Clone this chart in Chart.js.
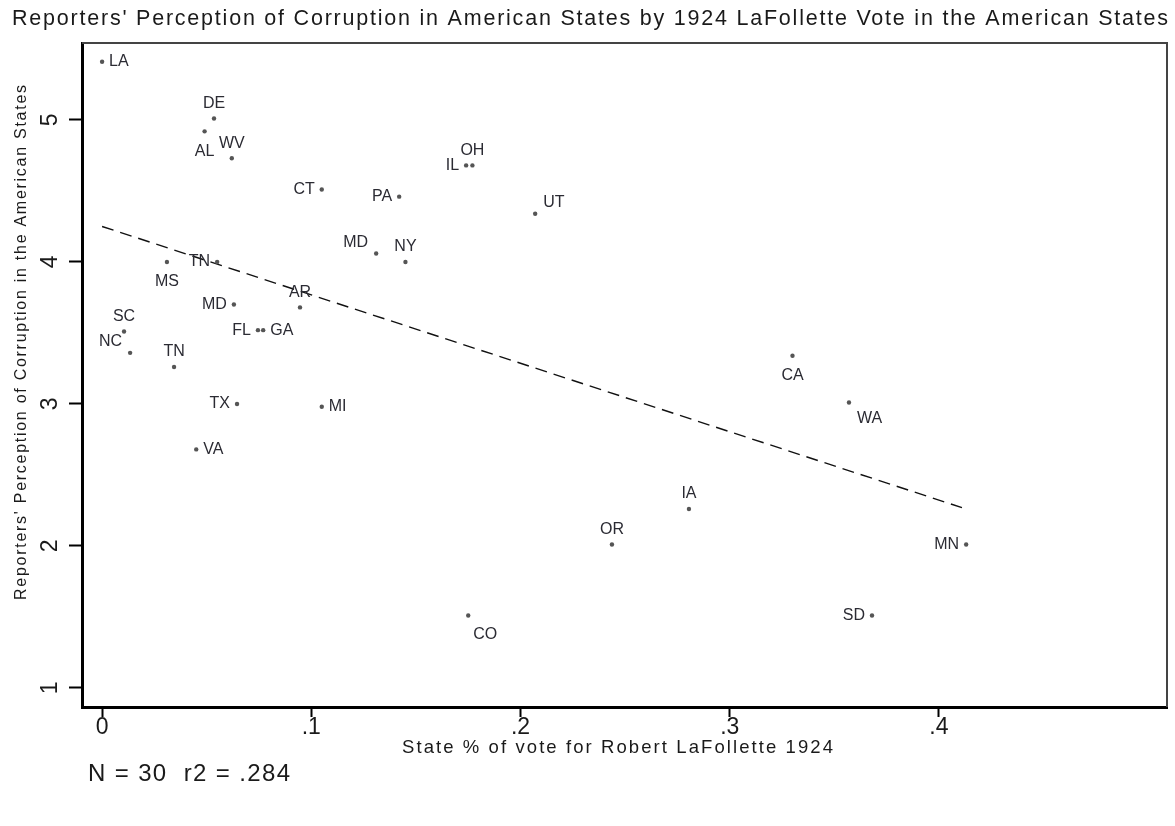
<!DOCTYPE html>
<html><head><meta charset="utf-8">
<script src="https://cdn.jsdelivr.net/npm/chart.js@4.4.1/dist/chart.umd.min.js"></script>
<style>html,body{margin:0;padding:0;background:#fff;} #wrap{width:1175px;height:826px;position:relative}</style>
</head><body><div id="wrap"><canvas id="c" width="1175" height="826"></canvas></div>
<script>
// ---- data ----
const states = ['LA','DE','AL','WV','CT','PA','IL','OH','UT','MD','NY','TN','MS','AR','MD','FL','GA','SC','NC','TN','TX','MI','VA','CA','WA','IA','OR','MN','SD','CO'];
const voteShare = [0.000,0.0535,0.049,0.062,0.105,0.142,0.174,0.177,0.207,0.131,0.145,0.055,0.031,0.0946,0.063,0.0745,0.077,0.0105,0.0134,0.0344,0.0645,0.105,0.045,0.330,0.357,0.2805,0.2437,0.413,0.368,0.175];
const corruption = [5.41,5.01,4.92,4.73,4.51,4.46,4.68,4.68,4.34,4.06,4.00,4.00,4.00,3.68,3.70,3.52,3.52,3.51,3.36,3.26,3.00,2.98,2.68,3.34,3.01,2.26,2.01,2.01,1.51,1.51];
const fitX = [0, 0.411];
const fitY = [4.25, 2.27];
const xTicks = [0, 0.1, 0.2, 0.3, 0.4];
const xTickLabels = ['0', '.1', '.2', '.3', '.4'];
const yTicks = [1, 2, 3, 4, 5];
const yTickLabels = ['1', '2', '3', '4', '5'];
const titleText = "Reporters' Perception of Corruption in American States by 1924 LaFollette Vote in the American States";
const xTitleText = 'State % of vote for Robert LaFollette 1924';
const yTitleText = "Reporters' Perception of Corruption in the American States";
const noteText = 'N = 30  r2 = .284';

// ---- styling (label clock positions, Stata style) ----
const labelClock = [3,12,6,12,9,9,9,12,2,10,12,9,6,12,9,9,3,12,10,12,9,3,3,6,4,12,12,9,9,5];
const FONT = '"Liberation Sans", Arial, sans-serif';
const clockOff = {
  12:[0,-15,'center'], 6:[0,20,'center'], 3:[7,0,'left'], 9:[-7,0,'right'],
  2:[8,-11,'left'], 10:[-8,-11,'right'], 4:[8,16,'left'], 5:[5,19,'left'],
  7:[-5,19,'right'], 8:[-8,12,'right'], 1:[5,-14,'left'], 11:[-5,-14,'right']
};

function spacedText(ctx, text, x, y, target, size, rot) {
  ctx.save();
  ctx.font = size + 'px ' + FONT;
  ctx.letterSpacing = '0px';
  const w = ctx.measureText(text).width;
  const ls = (target - w) / (text.length - 1);
  ctx.letterSpacing = ls + 'px';
  ctx.fillStyle = '#1a1a1a';
  ctx.textBaseline = 'middle';
  ctx.textAlign = 'left';
  ctx.translate(x, y);
  if (rot) ctx.rotate(rot);
  ctx.fillText(text, 0, 0);
  ctx.restore();
}

const decor = {
  id: 'decor',
  afterDraw(chart) {
    const ctx = chart.ctx, a = chart.chartArea;
    const xs = chart.scales.x, ys = chart.scales.y;
    ctx.save();
    ctx.strokeStyle = '#444';
    ctx.lineWidth = 2;
    ctx.beginPath();
    ctx.moveTo(a.left, a.top); ctx.lineTo(a.right, a.top); ctx.lineTo(a.right, a.bottom);
    ctx.stroke();
    ctx.restore();
    ctx.save();
    ctx.font = '16px ' + FONT;
    ctx.fillStyle = '#2b2b33';
    ctx.textBaseline = 'middle';
    states.forEach((s, i) => {
      const px = xs.getPixelForValue(voteShare[i]);
      const py = ys.getPixelForValue(corruption[i]);
      const o = clockOff[labelClock[i]];
      ctx.textAlign = o[2];
      ctx.fillText(s, px + o[0], py + o[1]);
    });
    ctx.restore();
    spacedText(ctx, titleText, 12, 19, 1156, 21.5, 0);
    spacedText(ctx, xTitleText, 402, 748, 431, 18.5, 0);
    spacedText(ctx, yTitleText, 22, 600, 515, 16, -Math.PI / 2);
    spacedText(ctx, noteText, 88, 774, 202, 24, 0);
  }
};

new Chart(document.getElementById('c'), {
  type: 'scatter',
  data: {
    datasets: [
      {
        label: 'States',
        data: voteShare.map((v, i) => ({ x: v, y: corruption[i] })),
        pointRadius: 2.2,
        pointBackgroundColor: '#555',
        pointBorderWidth: 0,
        order: 1
      },
      {
        type: 'line',
        label: 'Fitted',
        data: fitX.map((v, i) => ({ x: v, y: fitY[i] })),
        borderColor: '#111',
        borderWidth: 1.4,
        borderDash: [12, 7],
        pointRadius: 0,
        fill: false,
        order: 2
      }
    ]
  },
  options: {
    responsive: false,
    animation: false,
    devicePixelRatio: 1,
    layout: { padding: { top: 43, right: 8, left: 0, bottom: 0 } },
    plugins: { legend: { display: false }, tooltip: { enabled: false }, title: { display: false } },
    scales: {
      x: {
        type: 'linear',
        min: -0.0096, max: 0.509,
        afterBuildTicks: s => { s.ticks = xTicks.map(v => ({ value: v })); },
        afterFit: s => { s.height = 119; },
        ticks: {
          callback: v => xTickLabels[xTicks.findIndex(t => Math.abs(t - v) < 1e-9)],
          font: { family: FONT, size: 23 },
          color: '#1a1a1a',
          padding: -3,
          maxRotation: 0, minRotation: 0, autoSkip: false
        },
        grid: { display: true, drawOnChartArea: false, drawTicks: true, tickLength: 10, tickColor: '#000', tickWidth: 2, color: '#000' },
        border: { display: true, color: '#000', width: 3 }
      },
      y: {
        type: 'linear',
        min: 0.866, max: 5.542,
        afterBuildTicks: s => { s.ticks = yTicks.map(v => ({ value: v })); },
        afterFit: s => { s.width = 82; },
        ticks: {
          callback: v => yTickLabels[yTicks.findIndex(t => Math.abs(t - v) < 1e-9)],
          font: { family: FONT, size: 23 },
          color: '#1a1a1a',
          minRotation: 90, maxRotation: 90,
          crossAlign: 'center',
          padding: 12, autoSkip: false
        },
        grid: { display: true, drawOnChartArea: false, drawTicks: true, tickLength: 13, tickColor: '#000', tickWidth: 2, color: '#000' },
        border: { display: true, color: '#000', width: 3 }
      }
    }
  },
  plugins: [decor]
});
</script>
</body></html>
